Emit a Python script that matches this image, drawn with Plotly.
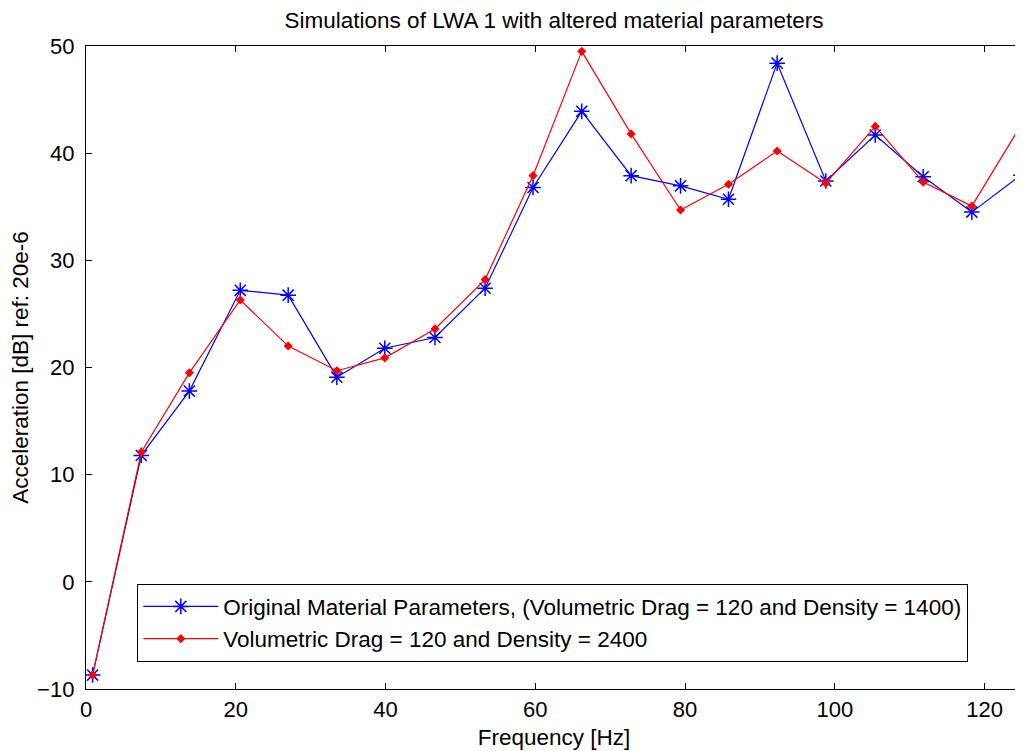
import plotly.graph_objects as go

freq_hz = [0.88, 7.38, 13.8, 20.6, 27.0, 33.5, 39.9, 46.6, 53.3, 59.7,
           66.2, 72.8, 79.4, 85.8, 92.3, 98.8, 105.4, 111.8, 118.3, 124.85]
original_db = [-8.7, 11.8, 17.8, 27.2, 26.75, 19.1, 21.8, 22.8, 27.4, 36.8,
               43.9, 37.9, 36.95, 35.7, 48.4, 37.4, 41.7, 37.8, 34.5, 37.95]
altered_db = [-8.7, 12.1, 19.5, 26.3, 22.0, 19.7, 20.9, 23.6, 28.2, 37.9,
              49.5, 41.8, 34.7, 37.1, 40.2, 37.2, 42.5, 37.3, 35.06, 42.6]

x_ticks = [0, 20, 40, 60, 80, 100, 120]
y_ticks = [-10, 0, 10, 20, 30, 40, 50]

name_orig = "Original Material Parameters, (Volumetric Drag = 120 and Density = 1400)"
name_alt = "Volumetric Drag = 120 and Density = 2400"

FONT = "Liberation Sans, Arial, sans-serif"
FS = 22
FS_BIG = 22.5

fig = go.Figure()
fig.add_trace(go.Scatter(
    x=freq_hz, y=original_db, mode="lines+markers", name=name_orig,
    line=dict(color="#0000ff", width=1.2),
    marker=dict(symbol="asterisk-open", size=13, color="#0000ff",
                line=dict(color="#0000ff", width=1.5)),
    legendgroup="a",
))
fig.add_trace(go.Scatter(
    x=freq_hz, y=altered_db, mode="lines+markers", name=name_alt,
    line=dict(color="#ff0000", width=1.2),
    marker=dict(symbol="diamond", size=7, color="#ff0000"),
    legendgroup="b",
))

axis_common = dict(
    showline=True, linecolor="black", linewidth=1.3, mirror="allticks",
    ticks="inside", ticklen=6, tickcolor="black", tickwidth=1.3,
    showgrid=False, zeroline=False,
    tickfont=dict(family=FONT, size=FS, color="black"),
)

fig.update_layout(
    width=1015, height=743,
    paper_bgcolor="white", plot_bgcolor="white",
    margin=dict(l=78, r=1, t=38, b=62, autoexpand=False),
    font=dict(family=FONT, size=FS, color="black"),
    title=dict(text="Simulations of LWA 1 with altered material parameters",
               x=0.538, xanchor="center", y=0.984, yanchor="middle",
               font=dict(family=FONT, size=FS_BIG, color="black")),
    xaxis=dict(range=[0, 125], tickvals=x_ticks,
               title=dict(text="Frequency [Hz]", standoff=8,
                          font=dict(family=FONT, size=FS_BIG)),
               **axis_common),
    yaxis=dict(range=[-10, 50], tickvals=y_ticks, ticklabelstandoff=6,
               title=dict(text="Acceleration [dB] ref: 20e-6", standoff=8,
                          font=dict(family=FONT, size=FS_BIG)),
               **axis_common),
    legend=dict(x=0.0545, y=0.042, xanchor="left", yanchor="bottom",
                bgcolor="white", bordercolor="black", borderwidth=1.3,
                font=dict(family=FONT, size=FS_BIG, color="black"),
                itemwidth=75, tracegroupgap=2, traceorder="normal"),
    showlegend=True,
)

fig.write_html("out.html")
